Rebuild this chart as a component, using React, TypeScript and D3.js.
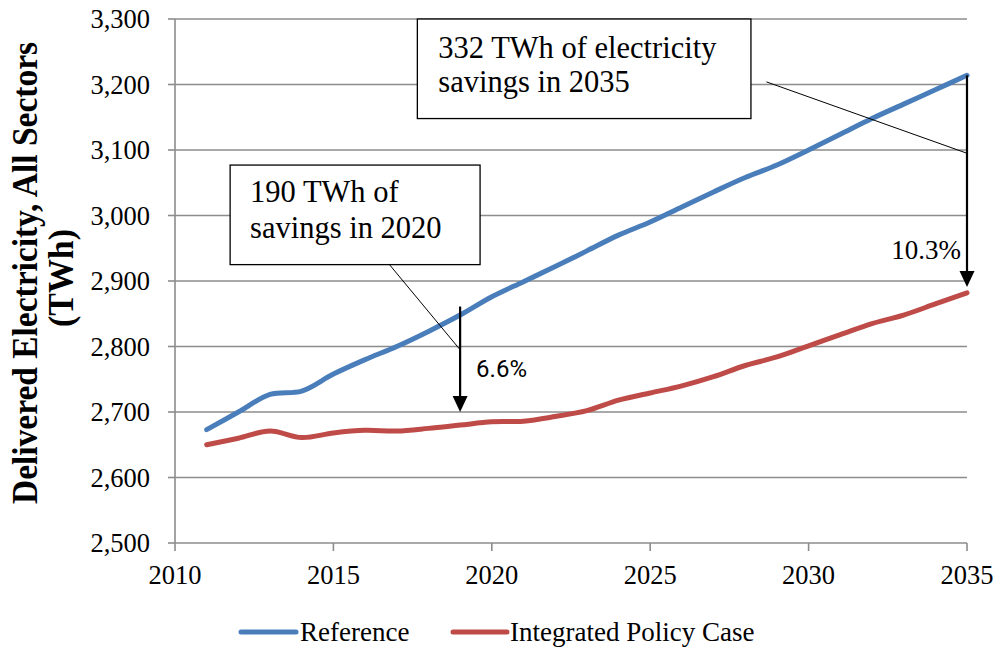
import React from "react";
import * as d3 from "d3";

const years = [2011,2012,2013,2014,2015,2016,2017,2018,2019,2020,2021,2022,2023,2024,2025,2026,2027,2028,2029,2030,2031,2032,2033,2034,2035];
const referenceValues = [2673,2700,2727,2732,2758,2780,2800,2823,2848,2876,2899,2922,2946,2970,2990,3013,3036,3058,3077,3100,3124,3148,3170,3192,3214];
const policyValues = [2650,2660,2671,2661,2668,2672,2671,2675,2680,2685,2686,2693,2702,2718,2729,2740,2754,2771,2784,2801,2818,2835,2848,2865,2882];
const yTicks = [2500,2600,2700,2800,2900,3000,3100,3200,3300];
const xTicks = [2010,2015,2020,2025,2030,2035];
const seriesNames = ["Reference", "Integrated Policy Case"];
const seriesColors = ["#4A7EBB", "#BE4B48"];
const yTitle = ["Delivered Electricity, All Sectors", "(TWh)"];
const note2020 = ["190 TWh of", "savings in 2020"];
const note2035 = ["332 TWh of electricity", "savings in 2035"];
const pct2020 = "6.6%";
const pct2035 = "10.3%";

const W = 998, H = 648;
const L = 175, R = 967, T = 19, B = 543;
const serif = "'Liberation Serif', 'Times New Roman', serif";

export default function App() {
  const x = d3.scaleLinear().domain([2010, 2035]).range([L, R]);
  const y = d3.scaleLinear().domain([2500, 3300]).range([B, T]);
  const line = d3.line<number>()
    .x((_, i) => x(years[i]))
    .y((v) => y(v))
    .curve(d3.curveCatmullRom.alpha(0.5));
  const grid = "#8C8C8C";

  const a1x = x(2019);
  const a1top = y(2861), a1tip = y(2700);
  const a2x = x(2035);
  const a2top = y(referenceValues[referenceValues.length - 1]);
  const a2tip = y(2891);

  const box1 = { x0: x(2011.74), x1: x(2019.63), y0: y(3077), y1: y(2925) };
  const box2 = { x0: x(2017.65), x1: x(2028.18), y0: y(3300), y1: y(3148) };

  return (
    <svg width={W} height={H} style={{ position: "absolute", left: 0, top: 0, background: "#fff" }}>
      {yTicks.map((t) => (
        <g key={t}>
          <line x1={L} x2={R} y1={y(t)} y2={y(t)} stroke={grid} strokeWidth={1.6} />
          <line x1={L - 7} x2={L} y1={y(t)} y2={y(t)} stroke={grid} strokeWidth={1.6} />
          <text x={150} y={y(t)} dy="0.35em" textAnchor="end" fontFamily={serif} fontSize={26.5} fill="#000">
            {d3.format(",")(t)}
          </text>
        </g>
      ))}
      <line x1={L} x2={L} y1={T} y2={B} stroke={grid} strokeWidth={1.6} />
      {xTicks.map((t) => (
        <g key={t}>
          <line x1={x(t)} x2={x(t)} y1={B} y2={B + 8} stroke={grid} strokeWidth={1.6} />
          <text x={x(t)} y={584} textAnchor="middle" fontFamily={serif} fontSize={26.5} fill="#000">{t}</text>
        </g>
      ))}
      <g transform="translate(37,273) rotate(-90)">
        <text x={0} y={0} textAnchor="middle" fontFamily={serif} fontWeight="bold" fontSize={35} textLength={462} lengthAdjust="spacingAndGlyphs">{yTitle[0]}</text>
      </g>
      <g transform="translate(73,278) rotate(-90)">
        <text x={0} y={0} textAnchor="middle" fontFamily={serif} fontWeight="bold" fontSize={35} textLength={98} lengthAdjust="spacingAndGlyphs">{yTitle[1]}</text>
      </g>
      <path d={line(referenceValues) || ""} fill="none" stroke={seriesColors[0]} strokeWidth={5} strokeLinecap="round" />
      <path d={line(policyValues) || ""} fill="none" stroke={seriesColors[1]} strokeWidth={5} strokeLinecap="round" />
      <rect x={box1.x0} y={box1.y0} width={box1.x1 - box1.x0} height={box1.y1 - box1.y0} fill="#fff" stroke="#000" strokeWidth={1.3} />
      <text x={box1.x0 + 20} y={box1.y0 + 37} fontFamily={serif} fontSize={30.5} fill="#000">{note2020[0]}</text>
      <text x={box1.x0 + 20} y={box1.y0 + 72.5} fontFamily={serif} fontSize={30.5} fill="#000">{note2020[1]}</text>
      <line x1={x(2016.77)} y1={box1.y1} x2={a1x} y2={y(2795)} stroke="#000" strokeWidth={1} />
      <line x1={a1x} x2={a1x} y1={a1top} y2={a1tip - 10} stroke="#000" strokeWidth={2.2} />
      <path d={`M${a1x - 7.5},${a1tip - 16} L${a1x + 7.5},${a1tip - 16} L${a1x},${a1tip} z`} fill="#000" />
      <text x={a1x + 16} y={a1tip - 35} fontFamily="Roboto, 'Open Sans', sans-serif" fontSize={24} fill="#000">{pct2020}</text>
      <rect x={box2.x0} y={box2.y0} width={box2.x1 - box2.x0} height={box2.y1 - box2.y0} fill="#fff" stroke="#000" strokeWidth={1.3} />
      <text x={box2.x0 + 21} y={box2.y0 + 39} fontFamily={serif} fontSize={30.5} fill="#000">{note2035[0]}</text>
      <text x={box2.x0 + 21} y={box2.y0 + 72.5} fontFamily={serif} fontSize={30.5} fill="#000">{note2035[1]}</text>
      <line x1={x(2028.67)} y1={y(3204)} x2={a2x} y2={y(3095)} stroke="#000" strokeWidth={1} />
      <line x1={a2x} x2={a2x} y1={a2top} y2={a2tip - 10} stroke="#000" strokeWidth={2.2} />
      <path d={`M${a2x - 7.5},${a2tip - 16} L${a2x + 7.5},${a2tip - 16} L${a2x},${a2tip} z`} fill="#000" />
      <text x={a2x - 6} y={y(2886) - 31} textAnchor="end" fontFamily={serif} fontSize={27} fill="#000">{pct2035}</text>
      <line x1={241} x2={296} y1={632} y2={632} stroke={seriesColors[0]} strokeWidth={5} strokeLinecap="round" />
      <text x={300} y={641} fontFamily={serif} fontSize={27} fill="#000">{seriesNames[0]}</text>
      <line x1={453} x2={507} y1={632} y2={632} stroke={seriesColors[1]} strokeWidth={5} strokeLinecap="round" />
      <text x={510} y={641} fontFamily={serif} fontSize={27} fill="#000">{seriesNames[1]}</text>
    </svg>
  );
}
